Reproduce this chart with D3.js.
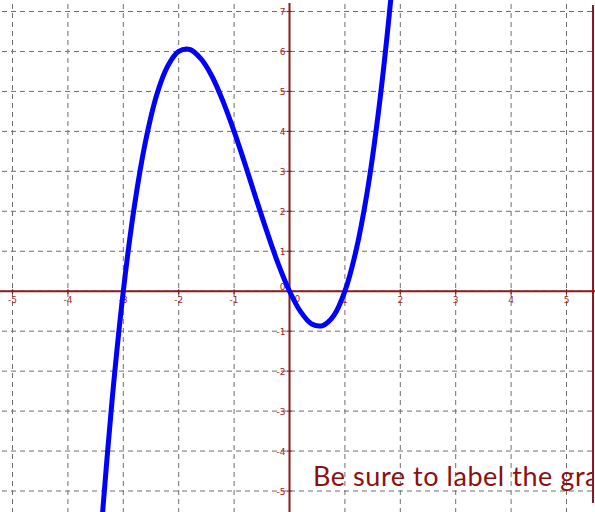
<!DOCTYPE html>
<html>
<head>
<meta charset="utf-8">
<script src="https://cdn.jsdelivr.net/npm/d3@7"></script>
<style>
  body { margin: 0; background: #fff; }
  svg { display: block; }
</style>
</head>
<body>
<div id="main"></div>
<script>
// values
const xTicks = [-5, -4, -3, -2, -1, 1, 2, 3, 4, 5]
const yTicks = [-5, -4, -3, -2, -1, 1, 2, 3, 4, 5, 6, 7]
const curveX = [-3.4, -3.2, -3.0, -2.8, -2.6, -2.4, -2.2, -2.0, -1.8, -1.6, -1.4, -1.2, -1.0,
  -0.8, -0.6, -0.4, -0.2, 0, 0.2, 0.4, 0.6, 0.8, 1.0, 1.2, 1.4, 1.6, 1.8, 2.0]
const curveY = [-5.98, -2.69, 0, 2.13, 3.74, 4.90, 5.63, 6.0, 6.05, 5.82, 5.38, 4.75, 4.0,
  3.17, 2.30, 1.46, 0.67, 0, -0.51, -0.82, -0.86, -0.61, 0, 1.01, 2.46, 4.42, 6.91, 10]
const note = "Be sure to label the graph"

const W = 595, H = 512
const axisColor = "#8b1a1a"

const svg = d3.select("#main").append("svg").attr("width", W).attr("height", H)

const x = d3.scaleLinear().domain([-5, 5]).range([12.5, 566.5])
const y = d3.scaleLinear().domain([-5, 7]).range([491, 11.5])

// grid
let grid = svg.append("g")
grid.selectAll("line.v").data(d3.range(-5, 6)).enter().append("line")
  .attr("x1", d => x(d)).attr("x2", d => x(d))
  .attr("y1", 4).attr("y2", H)
  .attr("stroke", "#6e6e6e").attr("stroke-width", 1).attr("stroke-dasharray", "5,4")
grid.selectAll("line.h").data(d3.range(-5, 8)).enter().append("line")
  .attr("y1", d => y(d)).attr("y2", d => y(d))
  .attr("x1", 2).attr("x2", W)
  .attr("stroke", "#6e6e6e").attr("stroke-width", 1).attr("stroke-dasharray", "5,4")

// note text, clipped at the right border like the original
svg.append("clipPath").attr("id", "clipText").append("rect")
  .attr("x", 0).attr("y", 0).attr("width", 592).attr("height", H)
svg.append("text").attr("clip-path", "url(#clipText)")
  .attr("x", 313).attr("y", 486)
  .attr("fill", "#8b1010")
  .style("font-family", "'Comic Sans MS', 'Lato', cursive")
  .style("font-size", "27px")
  .style("letter-spacing", "0.55px")
  .text(note)

// axes
svg.append("line").attr("x1", 0).attr("x2", W).attr("y1", y(0)).attr("y2", y(0))
  .attr("stroke", axisColor).attr("stroke-width", 2)
svg.append("line").attr("x1", x(0)).attr("x2", x(0)).attr("y1", 3).attr("y2", H)
  .attr("stroke", axisColor).attr("stroke-width", 2)
svg.append("line").attr("x1", 593).attr("x2", 593).attr("y1", 5).attr("y2", 503)
  .attr("stroke", axisColor).attr("stroke-width", 2)

let ticks = svg.append("g").attr("fill", "#a02828").style("font-family", "DejaVu Sans").style("font-size", "9px")
ticks.selectAll("line.xt").data(xTicks).enter().append("line")
  .attr("x1", d => x(d)).attr("x2", d => x(d)).attr("y1", y(0) - 2).attr("y2", y(0) + 3)
  .attr("stroke", axisColor).attr("stroke-width", 1.2)
ticks.selectAll("text.xl").data(xTicks).enter().append("text")
  .attr("x", d => x(d)).attr("y", y(0) + 12)
  .attr("text-anchor", "middle")
  .text(d => d)
ticks.selectAll("line.yt").data(yTicks).enter().append("line")
  .attr("x1", x(0) - 3).attr("x2", x(0) + 2).attr("y1", d => y(d)).attr("y2", d => y(d))
  .attr("stroke", axisColor).attr("stroke-width", 1.2)
ticks.selectAll("text.yl").data(yTicks).enter().append("text")
  .attr("x", x(0) - 4).attr("y", d => y(d) + 3.5)
  .attr("text-anchor", "end")
  .text(d => d)
ticks.append("text").attr("x", x(0) - 4).attr("y", y(0) - 1).attr("text-anchor", "end").text("0")
ticks.append("text").attr("x", x(0) + 5).attr("y", y(0) + 11).text("0")

// curve
svg.append("clipPath").attr("id", "clipPlot").append("rect")
  .attr("x", 0).attr("y", 0).attr("width", W).attr("height", H)
const pts = curveX.map((v, i) => [v, curveY[i]])
const line = d3.line().x(d => x(d[0])).y(d => y(d[1])).curve(d3.curveCatmullRom)
svg.append("path").datum(pts).attr("clip-path", "url(#clipPlot)")
  .attr("d", line)
  .attr("fill", "none").attr("stroke", "#0000ff").attr("stroke-width", 5)
  .attr("stroke-linecap", "round")
</script>
</body>
</html>
